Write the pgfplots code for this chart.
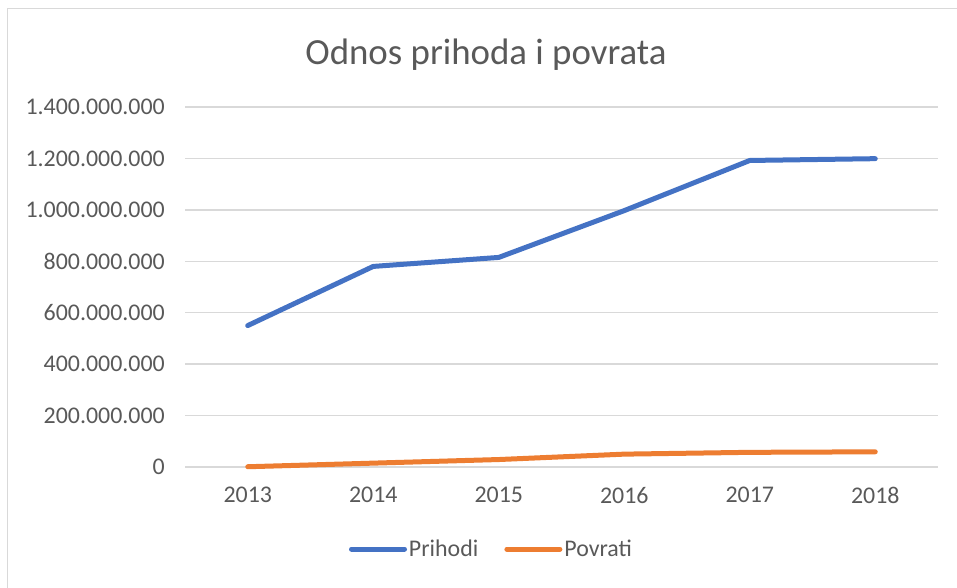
\documentclass[border=0pt]{standalone}
\usepackage{pgfplots}
\pgfplotsset{compat=1.18}
\usepackage{fontspec}
\setmainfont{Carlito}
\definecolor{txt}{HTML}{595959}
\definecolor{gridc}{HTML}{D9D9D9}
\definecolor{blueA}{HTML}{4472C4}
\definecolor{orangeA}{HTML}{ED7D31}
\begin{document}
\begin{tikzpicture}[x=1bp,y=1bp]
\useasboundingbox (0,0) rectangle (957,588);
\draw[gridc, line width=1.5bp] (7.5,-20) -- (7.5,579.5) -- (980,579.5);
\node[txt, font=\fontsize{37}{44}\selectfont] at (486,533) {Odnos prihoda i povrata};
\begin{axis}[
  at={(185bp,121bp)}, anchor=south west,
  scale only axis, width=753bp, height=360bp,
  xmin=-0.5, xmax=5.5, ymin=0, ymax=1400000000,
  xtick={0,1,2,3,4,5},
  xticklabels={2013,2014,2015,2016,2017,2018},
  ytick={0,200000000,400000000,600000000,800000000,1000000000,1200000000,1400000000},
  axis line style={draw=none},
  tick style={draw=none},
  ymajorgrids, grid style={gridc, line width=1.5bp},
  scaled y ticks=false,
  tick label style={txt, font=\fontsize{24}{28}\selectfont, inner sep=0pt},
  xticklabel style={anchor=north, yshift=-20bp},
  yticklabel style={anchor=east, xshift=-20bp},
  /pgf/number format/.cd, fixed, precision=0, 1000 sep={.}, assume math mode=true,
  /pgfplots/.cd,
  legend columns=2,
  legend style={at={(axis description cs:0.407,-0.228)}, anchor=center, draw=none, fill=none,
    font=\fontsize{24}{28}\selectfont, text=txt,
    /tikz/every even column/.append style={column sep=24bp}},
  legend image code/.code={\draw[#1, line cap=round] (0bp,0bp) -- (53bp,0bp);},
  clip=false,
]
\addplot[blueA, line width=5bp, line cap=round, line join=round] coordinates {
  (0,550000000) (1,780000000) (2,815000000) (3,997000000) (4,1192000000) (5,1199000000)};
\addlegendentry{Prihodi}
\addplot[orangeA, line width=5bp, line cap=round, line join=round] coordinates {
  (0,1000000) (1,15000000) (2,29000000) (3,50000000) (4,57000000) (5,59000000)};
\addlegendentry{Povrati}
\end{axis}
\end{tikzpicture}
\end{document}
